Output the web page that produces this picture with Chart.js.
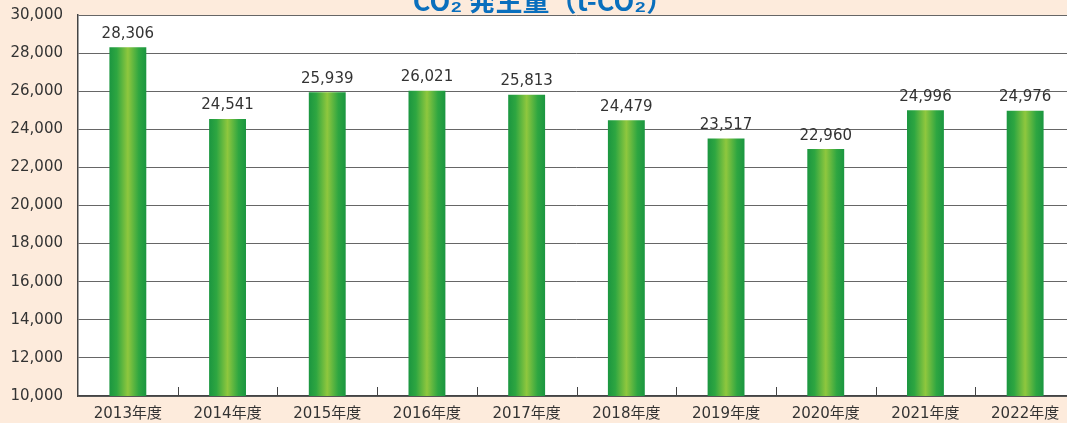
<!DOCTYPE html>
<html>
<head>
<meta charset="utf-8">
<script src="https://cdn.jsdelivr.net/npm/chart.js@4"></script>
<style>
  html, body { margin: 0; padding: 0; background: #fdebdc; overflow: hidden; }
  #co2 { display: block; }
</style>
</head>
<body>
<canvas id="co2" width="1080" height="423"></canvas>
<script>
// 年度ごとの CO2 発生量
const years = ['2013年度', '2014年度', '2015年度', '2016年度', '2017年度', '2018年度', '2019年度', '2020年度', '2021年度', '2022年度'];
const co2 = [28306, 24541, 25939, 26021, 25813, 24479, 23517, 22960, 24996, 24976];
const yTicks = [10000, 12000, 14000, 16000, 18000, 20000, 22000, 24000, 26000, 28000, 30000];
const chartTitle = 'CO₂ 発生量（t-CO₂）';

const fontFamily = '"DejaVu Sans", "Noto Sans CJK JP", sans-serif';
const titleFont = '"Noto Sans CJK JP", sans-serif';
const barPct = 0.37;

// 棒ごとの横方向グラデーション
function barGradient(ctx) {
  const chart = ctx.chart;
  const x = chart.scales.x;
  if (!x || ctx.type !== 'data') return '#3aa63f';
  const cx = x.getPixelForValue(ctx.dataIndex);
  const w = (x.width / years.length) * barPct;
  if (!isFinite(cx) || !isFinite(w) || w <= 0) return '#3aa63f';
  const g = chart.ctx.createLinearGradient(cx - w / 2, 0, cx + w / 2, 0);
  g.addColorStop(0, '#1b9640');
  g.addColorStop(0.2, '#2ea641');
  g.addColorStop(0.5, '#8fc73e');
  g.addColorStop(0.8, '#2ea641');
  g.addColorStop(1, '#1b9640');
  return g;
}

// 値ラベル・タイトル・目盛り
const extras = {
  id: 'extras',
  beforeDraw(chart) {
    const a = chart.chartArea;
    chart.ctx.save();
    chart.ctx.fillStyle = '#fff';
    chart.ctx.fillRect(a.left, a.top, a.right - a.left, a.bottom - a.top);
    chart.ctx.restore();
  },
  afterDatasetsDraw(chart) {
    const c = chart.ctx;
    const meta = chart.getDatasetMeta(0);
    c.save();
    c.font = '15px ' + fontFamily;
    c.fillStyle = '#333';
    c.textAlign = 'center';
    c.textBaseline = 'bottom';
    meta.data.forEach((bar, i) => {
      c.fillText(co2[i].toLocaleString('en-US'), bar.x, bar.y - 6);
    });
    c.restore();
  },
  afterDraw(chart) {
    const c = chart.ctx;
    const x = chart.scales.x;
    const bottom = chart.chartArea.bottom;
    c.save();
    c.strokeStyle = '#444';
    c.lineWidth = 1;
    for (let i = 1; i < years.length; i++) {
      const px = Math.round((x.getPixelForValue(i - 1) + x.getPixelForValue(i)) / 2) + 0.5;
      c.beginPath();
      c.moveTo(px, bottom - 9);
      c.lineTo(px, bottom);
      c.stroke();
    }
    c.font = 'bold 27px ' + titleFont;
    c.fillStyle = '#0a6fbd';
    c.textAlign = 'center';
    c.textBaseline = 'alphabetic';
    c.fillText(chartTitle, 543, 11);
    c.restore();
  }
};

new Chart(document.getElementById('co2'), {
  type: 'bar',
  data: {
    labels: years,
    datasets: [{
      data: co2,
      backgroundColor: barGradient,
      borderWidth: 0,
      barPercentage: barPct,
      categoryPercentage: 1
    }]
  },
  options: {
    responsive: false,
    animation: false,
    layout: { padding: { top: 15, right: 5, left: 0, bottom: 0 } },
    plugins: {
      legend: { display: false },
      tooltip: { enabled: false }
    },
    scales: {
      x: {
        grid: { display: false },
        border: { color: '#444', width: 1.5 },
        ticks: { color: '#333', font: { family: fontFamily, size: 15 }, padding: 1 },
        afterFit(s) { s.height = 27; }
      },
      y: {
        min: 10000,
        max: 30000,
        afterBuildTicks(s) { s.ticks = yTicks.map(v => ({ value: v })); },
        grid: { color: '#666', lineWidth: 1, drawTicks: true, tickLength: 13, tickColor: 'rgba(0,0,0,0)' },
        border: { color: '#444', width: 1.5 },
        ticks: {
          color: '#333',
          padding: 2,
          font: { family: fontFamily, size: 15, lineHeight: 1 },
          callback: v => v.toLocaleString('en-US')
        },
        afterFit(s) { s.width = 78; }
      }
    }
  },
  plugins: [extras]
});
</script>
</body>
</html>
